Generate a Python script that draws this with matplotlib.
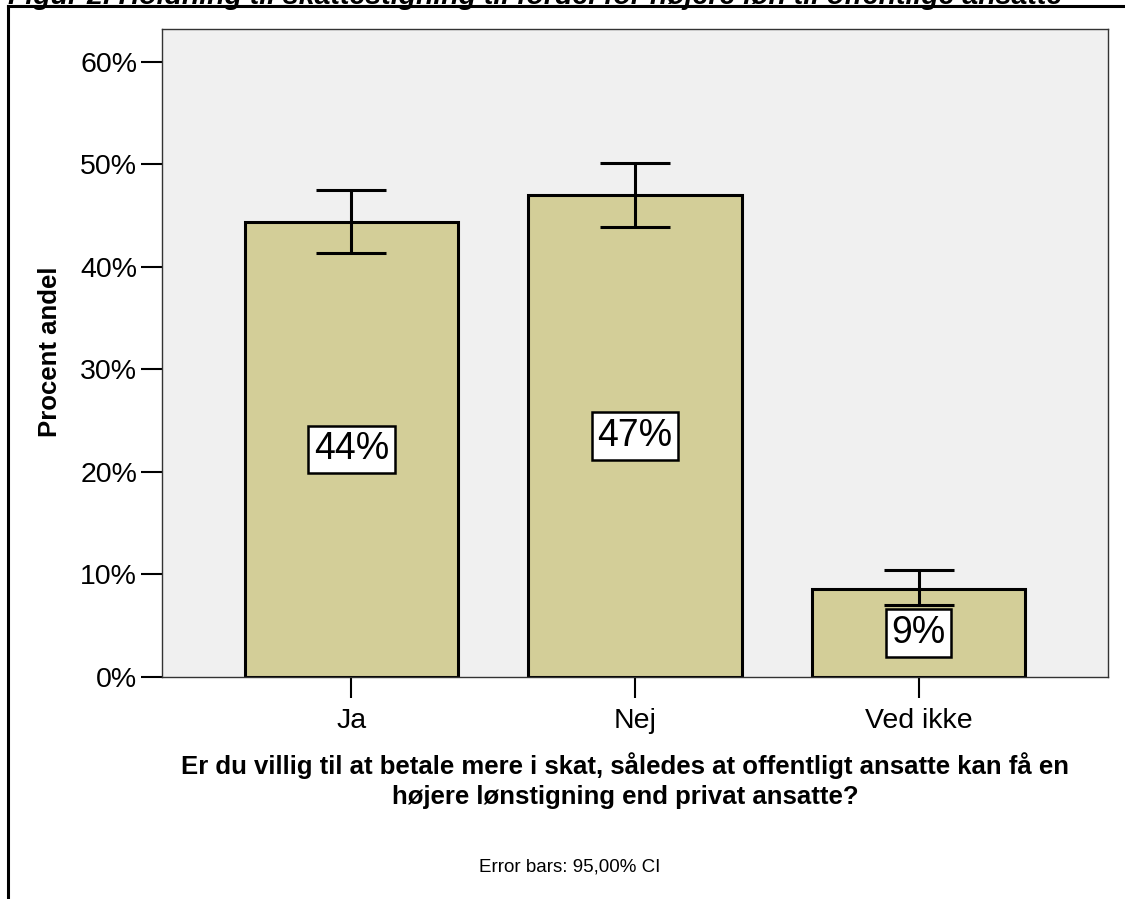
import matplotlib
matplotlib.use("Agg")
import matplotlib.pyplot as plt
from matplotlib.lines import Line2D

# values (percent of respondents, 95% CI)
categories = ["Ja", "Nej", "Ved ikke"]
percent = [44.4, 47.0, 8.6]
ci_low = [41.4, 43.9, 7.0]
ci_high = [47.5, 50.1, 10.4]
y_ticks = [0, 10, 20, 30, 40, 50, 60]

title = "Figur 2. Holdning til skattestigning til fordel for højere løn til offentlige ansatte"
x_title = [
    "Er du villig til at betale mere i skat, således at offentligt ansatte kan få en",
    "højere lønstigning end privat ansatte?",
]
y_title = "Procent andel"
note = "Error bars: 95,00% CI"

plt.rcParams["font.family"] = ["Liberation Sans", "DejaVu Sans"]

W, H = 1125, 899
fig = plt.figure(figsize=(W / 100, H / 100), dpi=100)

# plot area in pixel terms -> figure fractions
ax = fig.add_axes([162 / W, 1 - 677 / H, (1108 - 162) / W, (677 - 29) / H])
ax.set_facecolor("#f0f0f0")

x = list(range(len(categories)))
ax.bar(x, percent, width=0.752, color="#d3ce98", edgecolor="black",
       linewidth=2.2, zorder=2)

yerr = [[p - lo for p, lo in zip(percent, ci_low)],
        [hi - p for p, hi in zip(percent, ci_high)]]
ax.errorbar(x, percent, yerr=yerr, fmt="none", ecolor="black",
            elinewidth=2.2, capsize=25, capthick=2.2, zorder=3)

# value labels in boxes at half bar height
for i, p in enumerate(percent):
    ax.text(i, p / 2, f"{round(p)}%", ha="center", va="center", fontsize=27,
            zorder=4,
            bbox=dict(boxstyle="square,pad=0.15", facecolor="white",
                      edgecolor="black", linewidth=1.8))

ax.set_xlim(-0.667, 2.667)
ax.set_ylim(0, 63.2)
ax.set_yticks(y_ticks)
ax.set_yticklabels([f"{t}%" for t in y_ticks])
ax.set_xticks(x)
ax.set_xticklabels(categories)
ax.tick_params(axis="both", length=15, width=1.5, labelsize=20.5, color="black")
ax.tick_params(axis="y", pad=3)
ax.tick_params(axis="x", pad=7)

for s in ax.spines.values():
    s.set_linewidth(1.0)
    s.set_color("#333333")

# axis titles and note
fig.text(50 / W, 1 - 352 / H, y_title, rotation=90, ha="center", va="center",
         fontsize=18.5, fontweight="bold")
fig.text(625 / W, 1 - 766 / H, x_title[0], ha="center", va="center",
         fontsize=18.5, fontweight="bold")
fig.text(625 / W, 1 - 797 / H, x_title[1], ha="center", va="center",
         fontsize=18.5, fontweight="bold")
fig.text(570 / W, 1 - 867 / H, note, ha="center", va="center", fontsize=13.5)

# clipped caption above the frame
fig.text(8 / W, 1 - 3.5 / H, title, ha="left", va="baseline", fontsize=20.5,
         fontweight="bold", fontstyle="italic")

# outer frame (top and left edges visible)
fig.add_artist(Line2D([8 / W, 1], [1 - 5.5 / H, 1 - 5.5 / H], color="black",
                      linewidth=2.2, transform=fig.transFigure))
fig.add_artist(Line2D([8 / W, 8 / W], [0, 1 - 5.5 / H], color="black",
                      linewidth=2.2, transform=fig.transFigure))

fig.savefig("out.png", dpi=100)
